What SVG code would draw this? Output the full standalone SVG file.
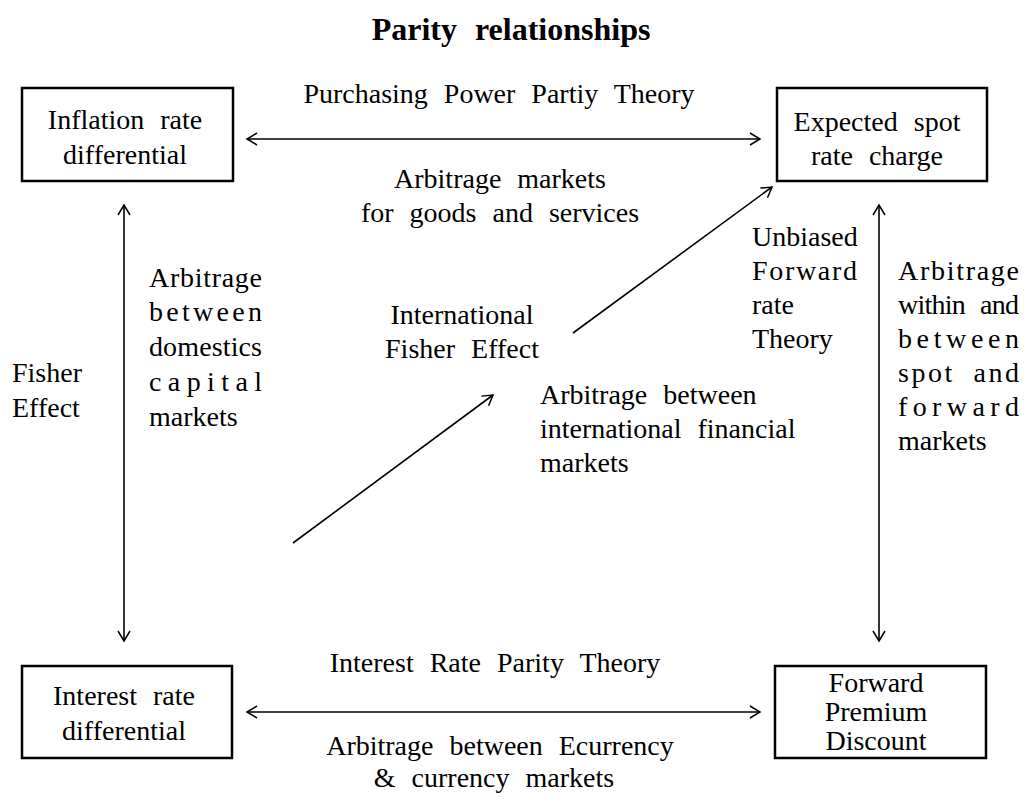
<svg xmlns="http://www.w3.org/2000/svg" width="1027" height="801" viewBox="0 0 1027 801">
<defs>
<marker id="ah" viewBox="-12 -8 14 16" markerWidth="14" markerHeight="16" refX="0" refY="0" orient="auto-start-reverse" markerUnits="userSpaceOnUse">
<path d="M-10,-6 L0,0 L-10,6" fill="none" stroke="#000" stroke-width="1.5"/>
</marker>
</defs>
<style>
text{font-family:"Liberation Serif","Times New Roman",serif;font-size:28px;fill:#000;word-spacing:9px}
.c{text-anchor:middle}
.t{font-weight:bold;font-size:32px;word-spacing:10px}
.box{fill:#fff;stroke:#000;stroke-width:2.5}
.ln{fill:none;stroke:#000;stroke-width:1.6}
</style>
<rect width="1027" height="801" fill="#fff"/>
<text class="c t" x="511" y="40">Parity relationships</text>

<g id="connectors">
<line class="ln" x1="247" y1="139" x2="760" y2="139" marker-start="url(#ah)" marker-end="url(#ah)"/>
<line class="ln" x1="247" y1="712" x2="760" y2="712" marker-start="url(#ah)" marker-end="url(#ah)"/>
<line class="ln" x1="124" y1="205" x2="124" y2="641" marker-start="url(#ah)" marker-end="url(#ah)"/>
<line class="ln" x1="879" y1="205" x2="879" y2="641" marker-start="url(#ah)" marker-end="url(#ah)"/>
<line class="ln" x1="293" y1="543" x2="493" y2="395" marker-end="url(#ah)"/>
<line class="ln" x1="573" y1="333" x2="772" y2="187" marker-end="url(#ah)"/>
</g>

<g id="inflation">
<rect class="box" x="22" y="88" width="211" height="93"/>
<text class="c" x="125" y="129">Inflation rate</text>
<text class="c" x="125" y="164">differential</text>
</g>
<g id="expected">
<rect class="box" x="777" y="88" width="210" height="93"/>
<text class="c" x="877" y="131">Expected spot</text>
<text class="c" x="877" y="165">rate charge</text>
</g>
<g id="interest">
<rect class="box" x="22" y="666" width="210" height="92"/>
<text class="c" x="124" y="705">Interest rate</text>
<text class="c" x="124" y="740">differential</text>
</g>
<g id="forward">
<rect class="box" x="775" y="666" width="211" height="92"/>
<text class="c" x="876" y="692">Forward</text>
<text class="c" x="876" y="721">Premium</text>
<text class="c" x="876" y="750">Discount</text>
</g>

<g id="labels">
<text class="c" x="499" y="103">Purchasing Power Partiy Theory</text>
<text class="c" x="500" y="188">Arbitrage markets</text>
<text class="c" x="500" y="222">for goods and services</text>

<text class="c" x="495" y="672">Interest Rate Parity Theory</text>
<text class="c" x="500" y="755">Arbitrage between Ecurrency</text>
<text class="c" x="494" y="787">&amp; currency markets</text>

<text x="12" y="382">Fisher</text>
<text x="12" y="417">Effect</text>

<text x="149" y="287" textLength="113" lengthAdjust="spacing">Arbitrage</text>
<text x="149" y="321" textLength="113" lengthAdjust="spacing">between</text>
<text x="149" y="356" textLength="113" lengthAdjust="spacing">domestics</text>
<text x="149" y="391" textLength="113" lengthAdjust="spacing">capital</text>
<text x="149" y="426">markets</text>

<text class="c" x="462" y="324">International</text>
<text class="c" x="462" y="358">Fisher Effect</text>

<text x="540" y="404">Arbitrage between</text>
<text x="540" y="438">international financial</text>
<text x="540" y="472">markets</text>

<text x="752" y="246">Unbiased</text>
<text x="752" y="280" textLength="105" lengthAdjust="spacing">Forward</text>
<text x="752" y="314">rate</text>
<text x="752" y="348">Theory</text>

<text x="898" y="280" textLength="121" lengthAdjust="spacing">Arbitrage</text>
<text x="898" y="314" textLength="121" lengthAdjust="spacing">within and</text>
<text x="898" y="348" textLength="121" lengthAdjust="spacing">between</text>
<text x="898" y="382" textLength="121" lengthAdjust="spacing">spot and</text>
<text x="898" y="416" textLength="121" lengthAdjust="spacing">forward</text>
<text x="898" y="450">markets</text>
</g>
</svg>
